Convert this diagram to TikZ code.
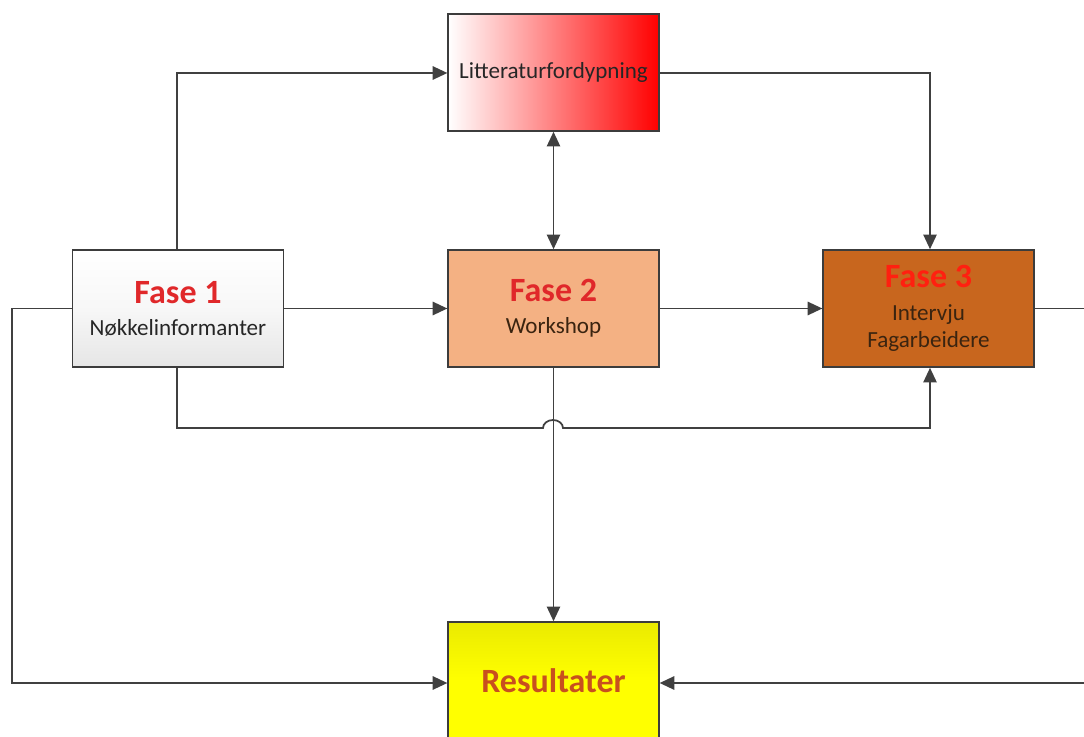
\documentclass[tikz,border=0pt]{standalone}
\usepackage{fontspec}
\setmainfont{Carlito}
\usetikzlibrary{arrows.meta}

\definecolor{wire}{HTML}{404040}
\definecolor{edge}{HTML}{3C3C3C}
\definecolor{faseRed}{HTML}{E0282A}
\definecolor{faseRedB}{HTML}{FF2010}
\definecolor{peach}{HTML}{F4B183}
\definecolor{rust}{HTML}{C8661E}
\definecolor{resText}{HTML}{C8501E}
\definecolor{darkBrown}{HTML}{3A2410}

\tikzset{
  box/.style={draw=edge, line width=1.2pt, minimum width=158pt, minimum height=87.75pt,
              inner sep=0pt, align=center, text=black,
              font=\fontsize{17.3}{20.5}\selectfont},
  tip/.tip={Triangle[length=11pt,width=10pt]},
  conn/.style={draw=wire, line width=1.3pt, -tip},
  biconn/.style={draw=wire, line width=1.3pt, tip-tip}
}

\newcommand{\fasetitle}[2]{{\color{#1}\fontsize{25.5}{26}\selectfont\bfseries #2}}

\begin{document}
\begin{tikzpicture}[x=0.75pt,y=-0.75pt]
  \useasboundingbox (0,0) rectangle (1084,737);
  \clip (0,0) rectangle (1084,737);
  \fill[white] (0,0) rectangle (1084,737);

  % boxes
  \node[box, left color=white, right color=red] (lit) at (553.5,72.5)
    {\color{black!85}Litteraturfordypning};
  \node[box, top color=white, bottom color=black!10, middle color=white!97!black] (f1) at (178,308.5)
    {\fasetitle{faseRed}{Fase 1}\\[3.5pt]\color{black!85}Nøkkelinformanter};
  \node[box, fill=peach] (f2) at (553.5,308.5)
    {\fasetitle{faseRed}{Fase 2}\\[3.5pt]\color{darkBrown}Workshop};
  \node[box, fill=rust] (f3) at (928.5,308.5)
    {\fasetitle{faseRedB}{Fase 3}\\[4pt]{\color{darkBrown}Intervju}\\{\color{darkBrown}Fagarbeidere}};
  \node[box, top color=yellow!92!black, bottom color=yellow, middle color=yellow] (res) at (553.5,680.5)
    {\fasetitle{resText}{Resultater}};

  % turning points of the connectors
  \coordinate (lftTop) at (177,73);
  \coordinate (rgtTop) at (930,73);
  \coordinate (lftOut) at (12,308.5);
  \coordinate (lftLow) at (12,683);
  \coordinate (rgtOut) at (1095,308.5);
  \coordinate (rgtLow) at (1095,683);
  \coordinate (loopA) at (177,428);
  \coordinate (loopB) at (930,428);
  \coordinate (hopL) at (543,428);

  % connectors
  \draw[conn] (f1.north -| lftTop) -- (lftTop) -- (lit.west |- lftTop);
  \draw[conn] (lit.east |- rgtTop) -- (rgtTop) -- (f3.north -| rgtTop);
  \draw[biconn] (lit.south) -- (f2.north);
  \draw[conn] (f1.east) -- (f2.west);
  \draw[conn] (f2.east) -- (f3.west);
  \draw[conn] (f2.south) -- (res.north);
  \draw[conn] (f1.west) -- (lftOut) -- (lftLow) -- (res.west |- lftLow);
  \draw[conn] (f3.east) -- (rgtOut) -- (rgtLow) -- (res.east |- rgtLow);
  \draw[conn] (f1.south -| loopA) -- (loopA) -- (hopL)
    arc[start angle=180, end angle=360, x radius=10, y radius=8]
    -- (loopB) -- (f3.south -| loopB);
\end{tikzpicture}
\end{document}
